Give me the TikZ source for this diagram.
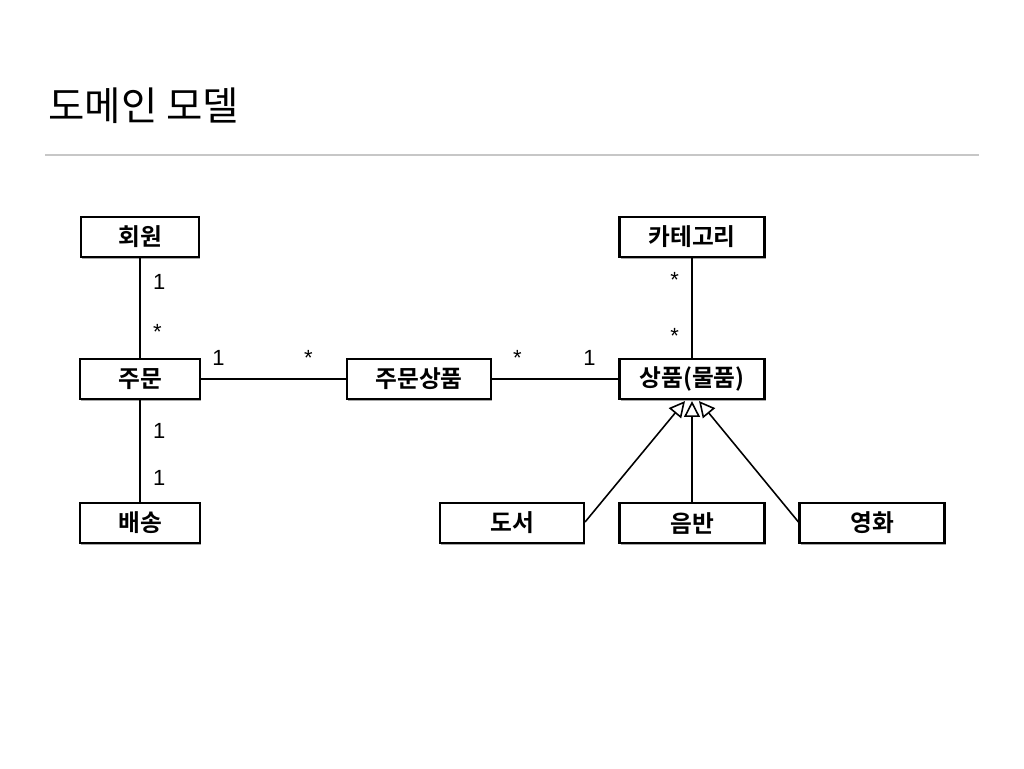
\documentclass[tikz,border=0pt]{standalone}
\usepackage{fontspec}
\setmainfont{Noto Sans CJK KR}[BoldFont={Noto Sans CJK KR Bold}]
\newfontfamily\latinsans{Liberation Sans}
\usetikzlibrary{positioning,calc,arrows.meta,shadows}

\begin{document}
\begin{tikzpicture}[x=0.02cm, y=-0.02cm, >=latex]
    \tikzset{
        cls/.style={draw, line width=1.2pt, fill=white, minimum height=0.8cm, inner sep=0pt,
            font=\bfseries\fontsize{13.5}{16}\selectfont,
            drop shadow={shadow xshift=0.8pt, shadow yshift=-1.2pt, opacity=0.35, fill=black}},
        assoc/.style={line width=0.9pt},
        gen/.style={line width=0.9pt, -{Triangle[open, length=9pt, width=9pt, line width=0.9pt]}},
        mult/.style={font=\latinsans\fontsize{12.5}{14}\selectfont, inner sep=1pt}
    }
    \useasboundingbox (0,0) rectangle (1024,768);

    % title
    \node[anchor=base west, inner sep=0pt, font=\fontsize{22.5}{27}\selectfont] (title) at (48,120) {도메인 모델};
    \draw[black!22, line width=0.8pt] (45,155) -- (979,155);

    % classes
    \node[cls, minimum width=2.36cm] (member) at (140,237) {회원};
    \node[cls, minimum width=2.4cm] (order) at (140,379) {주문};
    \node[cls, minimum width=2.4cm] (delivery) at (140,523) {배송};
    \node[cls, minimum width=2.88cm] (orderitem) at (419,379) {주문상품};
    \node[cls, minimum width=2.9cm] (category) at (692,237) {카테고리};
    \node[cls, minimum width=2.9cm] (item) at (692,379) {상품(물품)};
    \node[cls, minimum width=2.88cm] (book) at (512,523) {도서};
    \node[cls, minimum width=2.9cm] (album) at (692,523) {음반};
    \node[cls, minimum width=2.9cm] (movie) at (872,523) {영화};

    % associations
    \draw[assoc] (member) -- (order)
        node[mult, pos=0.24, right=6pt] (m1) {1}
        node[mult, pos=0.74, right=6pt] (m2) {*};
    \draw[assoc] (order) -- (delivery)
        node[mult, pos=0.3, right=6pt] (d1) {1}
        node[mult, pos=0.76, right=6pt] (d2) {1};
    \draw[assoc] (order) -- (orderitem)
        node[mult, pos=0.12, above=6pt] (o1) {1}
        node[mult, pos=0.74, above=6pt] (o2) {*};
    \draw[assoc] (orderitem) -- (item)
        node[mult, pos=0.2, above=6pt] (i1) {*}
        node[mult, pos=0.77, above=6pt] (i2) {1};
    \draw[assoc] (category) -- (item)
        node[mult, pos=0.22, left=6pt] (c1) {*}
        node[mult, pos=0.78, left=6pt] (c2) {*};

    % generalization
    \coordinate (tipl) at ($(item.south)+(-7,1)$);
    \coordinate (tipm) at ($(item.south)+(0,1)$);
    \coordinate (tipr) at ($(item.south)+(7,1)$);
    \draw[gen] ($(book.east)+(0,-1)$) -- (tipl);
    \draw[gen] (album) -- (tipm);
    \draw[gen] ($(movie.west)+(0,-1)$) -- (tipr);
\end{tikzpicture}
\end{document}
